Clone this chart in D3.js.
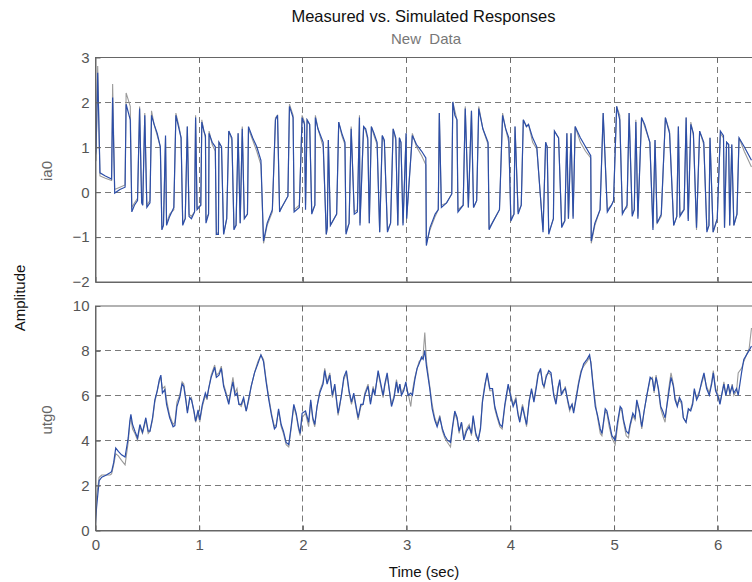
<!DOCTYPE html>
<html><head><meta charset="utf-8">
<script src="https://cdn.jsdelivr.net/npm/d3@7"></script>
<style>
body{margin:0;background:#fff}
svg{display:block;font-family:"Liberation Sans",Arial,sans-serif}
</style>
</head><body>
<svg id="c" width="752" height="582"></svg>
<script>
const xTicks=[0,1,2,3,4,5,6];
const iaTicks=[-2,-1,0,1,2,3];
const utgTicks=[0,2,4,6,8,10];
const titleText="Measured vs. Simulated Responses";
const subtitleText="New  Data";
const xLabel="Time (sec)";
const yLabel="Amplitude";
const channelNames=["ia0","utg0"];

const iaTime=[0,0.01,0.026,0.048,0.10,0.16,0.17,0.19,0.24,0.29,0.30,0.34,0.355,0.38,0.41,0.43,0.45,0.46,0.48,0.50,0.53,0.545,0.57,0.60,0.63,0.645,0.66,0.68,0.69,0.72,0.76,0.78,0.81,0.83,0.846,0.87,0.89,0.907,0.93,0.96,0.97,0.984,1.02,1.03,1.05,1.065,1.07,1.095,1.10,1.13,1.16,1.17,1.19,1.195,1.22,1.24,1.27,1.29,1.32,1.34,1.36,1.38,1.40,1.42,1.44,1.47,1.48,1.52,1.56,1.60,1.625,1.66,1.71,1.74,1.76,1.78,1.80,1.86,1.875,1.91,1.92,1.97,1.997,2.02,2.03,2.045,2.07,2.09,2.12,2.125,2.15,2.20,2.23,2.24,2.25,2.27,2.33,2.35,2.38,2.41,2.42,2.45,2.47,2.50,2.53,2.55,2.555,2.59,2.61,2.63,2.645,2.665,2.69,2.72,2.745,2.77,2.79,2.82,2.85,2.875,2.90,2.92,2.935,2.95,2.97,3.0,3.005,3.06,3.10,3.15,3.19,3.195,3.23,3.28,3.31,3.32,3.34,3.39,3.44,3.45,3.47,3.49,3.50,3.55,3.57,3.60,3.63,3.65,3.68,3.70,3.74,3.79,3.80,3.83,3.90,3.93,3.96,3.99,4.01,4.04,4.05,4.08,4.11,4.13,4.16,4.18,4.22,4.26,4.32,4.345,4.36,4.375,4.40,4.42,4.43,4.47,4.50,4.53,4.55,4.565,4.59,4.61,4.63,4.68,4.73,4.78,4.785,4.82,4.87,4.90,4.94,4.98,5.0,5.03,5.06,5.085,5.13,5.15,5.18,5.20,5.215,5.235,5.27,5.30,5.35,5.38,5.40,5.42,5.46,5.50,5.54,5.58,5.61,5.625,5.64,5.68,5.70,5.72,5.745,5.77,5.80,5.83,5.87,5.90,5.92,5.93,5.96,6.0,6.03,6.06,6.07,6.09,6.11,6.12,6.14,6.16,6.19,6.21,6.26,6.33];
const iaSim=[0.75,0.9,2.65,0.42,0.35,0.28,2.1,-0.03,0.05,0.1,1.95,1.6,-0.45,-0.3,-0.2,1.85,-0.25,-0.3,1.7,-0.35,-0.25,1.7,1.5,1.3,1.0,-0.85,-0.75,1.25,-0.75,-0.55,-0.35,1.7,1.4,1.2,-0.75,-0.6,1.45,-0.55,-0.6,-0.45,1.65,-0.4,-0.3,1.55,1.35,1.25,-0.7,-0.5,1.3,1.1,1.0,-0.95,-0.95,1.1,1.0,-0.95,-0.6,1.35,1.2,-0.85,-0.75,1.3,-0.7,1.4,-0.6,-0.5,1.45,1.2,1.0,0.7,-1.1,-0.7,-0.4,1.6,1.7,-0.45,-0.35,-0.1,1.9,1.65,-0.45,-0.35,1.65,1.5,-0.4,1.6,1.5,-0.5,-0.3,1.65,1.4,1.1,-0.95,-0.8,1.15,-0.75,-0.5,1.55,1.3,1.1,-0.95,-0.7,1.4,-0.5,-0.45,1.65,-0.75,1.45,1.4,1.2,-0.7,1.45,1.3,1.1,-0.9,1.25,1.15,-0.9,-0.7,1.4,1.2,-0.75,1.2,1.1,-0.75,1.3,-0.6,1.25,1.05,0.9,0.75,-1.2,-0.8,-0.5,-0.4,1.75,-0.35,-0.25,-0.05,2.0,1.7,1.6,-0.45,-0.3,1.85,-0.35,1.8,-0.35,-0.2,1.85,1.4,1.1,-0.85,-0.7,-0.4,1.7,1.4,1.2,-0.65,-0.5,1.45,-0.5,-0.3,1.6,1.45,1.5,1.2,1.0,-0.9,1.1,1.0,-0.95,-0.75,-0.6,1.35,1.2,-0.8,-0.65,1.3,-0.6,1.3,-0.6,1.45,1.2,1.0,0.8,-1.1,-0.7,-0.4,1.75,-0.45,-0.3,-0.2,1.9,1.6,-0.5,-0.3,1.75,-0.55,-0.4,1.55,-0.6,1.65,1.5,1.1,-0.85,1.15,-0.7,-0.5,1.65,1.3,-0.75,-0.55,1.45,-0.55,-0.4,1.65,-0.65,1.5,1.3,-0.8,1.35,1.1,-0.9,-0.75,1.2,-0.9,-0.6,1.35,1.25,-0.8,1.1,1.05,-0.75,1.05,-0.75,-0.5,1.2,1.0,0.7];
const iaMeas=[0.65,0.7,2.8,0.35,0.3,0.25,2.4,0.05,0.1,0.15,2.2,1.9,-0.35,-0.25,-0.15,1.9,-0.2,-0.3,1.75,-0.3,-0.2,1.8,1.5,1.25,1.0,-0.8,-0.75,1.2,-0.7,-0.5,-0.4,1.75,1.45,1.2,-0.7,-0.6,1.45,-0.5,-0.55,-0.45,1.7,-0.35,-0.3,1.6,1.35,1.2,-0.6,-0.5,1.35,1.05,0.9,-0.95,-0.9,1.1,1.0,-0.95,-0.6,1.35,1.15,-0.8,-0.75,1.3,-0.7,1.45,-0.6,-0.5,1.4,1.15,0.9,0.6,-1.15,-0.75,-0.45,1.65,1.7,-0.4,-0.35,-0.1,1.95,1.7,-0.4,-0.3,1.7,1.55,-0.3,1.6,1.5,-0.45,-0.3,1.7,1.4,1.0,-0.95,-0.8,1.15,-0.75,-0.5,1.55,1.25,1.05,-0.9,-0.7,1.45,-0.45,-0.4,1.7,-0.7,1.45,1.35,1.15,-0.7,1.45,1.25,1.05,-0.9,1.25,1.1,-0.85,-0.7,1.4,1.15,-0.75,1.2,1.1,-0.7,1.3,-0.6,1.3,1.0,0.8,0.6,-1.15,-0.85,-0.55,-0.4,1.75,-0.3,-0.25,-0.05,2.0,1.8,1.6,-0.4,-0.3,1.9,-0.35,1.8,-0.35,-0.2,1.9,1.4,1.05,-0.8,-0.7,-0.4,1.75,1.4,1.1,-0.6,-0.5,1.45,-0.45,-0.3,1.6,1.45,1.5,1.1,0.95,-0.85,1.1,1.0,-0.9,-0.75,-0.6,1.35,1.2,-0.75,-0.65,1.3,-0.6,1.3,-0.55,1.45,1.1,0.9,0.75,-1.15,-0.75,-0.4,1.75,-0.4,-0.3,-0.2,1.9,1.7,-0.45,-0.35,1.75,-0.5,-0.4,1.6,-0.55,1.65,1.45,1.1,-0.8,1.15,-0.7,-0.55,1.65,1.35,-0.75,-0.55,1.45,-0.5,-0.4,1.65,-0.6,1.55,1.25,-0.85,1.35,1.05,-0.85,-0.75,1.2,-0.9,-0.6,1.3,1.2,-0.8,1.1,1.05,-0.75,1.05,-0.75,-0.5,1.2,0.9,0.55];

const utgTime=[0,0.015,0.04,0.065,0.11,0.145,0.16,0.18,0.20,0.225,0.256,0.29,0.32,0.337,0.346,0.362,0.385,0.41,0.433,0.458,0.49,0.513,0.53,0.555,0.577,0.60,0.62,0.635,0.65,0.673,0.69,0.72,0.753,0.77,0.79,0.817,0.84,0.856,0.875,0.891,0.913,0.93,0.955,0.97,0.994,1.01,1.035,1.064,1.08,1.096,1.12,1.154,1.17,1.195,1.218,1.24,1.266,1.29,1.308,1.33,1.35,1.369,1.388,1.41,1.433,1.458,1.484,1.506,1.538,1.57,1.60,1.625,1.65,1.676,1.702,1.73,1.747,1.77,1.795,1.817,1.843,1.868,1.891,1.917,1.94,1.962,1.978,1.997,2.03,2.06,2.08,2.10,2.119,2.141,2.167,2.199,2.215,2.238,2.264,2.289,2.312,2.344,2.36,2.376,2.399,2.424,2.45,2.473,2.495,2.514,2.537,2.563,2.585,2.601,2.633,2.656,2.682,2.698,2.73,2.752,2.778,2.794,2.817,2.836,2.859,2.884,2.907,2.923,2.939,2.955,2.977,2.997,3.019,3.045,3.061,3.084,3.106,3.125,3.148,3.164,3.18,3.196,3.228,3.251,3.276,3.299,3.325,3.35,3.373,3.399,3.428,3.447,3.469,3.492,3.511,3.534,3.556,3.582,3.608,3.63,3.646,3.672,3.695,3.717,3.736,3.759,3.781,3.807,3.833,3.855,3.878,3.904,3.926,3.952,3.984,4.006,4.032,4.058,4.080,4.096,4.122,4.145,4.161,4.186,4.209,4.232,4.257,4.273,4.296,4.316,4.33,4.35,4.375,4.397,4.423,4.445,4.465,4.481,4.497,4.513,4.535,4.558,4.577,4.6,4.615,4.641,4.663,4.686,4.712,4.744,4.769,4.782,4.801,4.824,4.846,4.872,4.888,4.920,4.936,4.958,4.984,5.016,5.038,5.064,5.08,5.096,5.122,5.144,5.16,5.186,5.208,5.224,5.25,5.272,5.295,5.321,5.353,5.375,5.391,5.41,5.433,5.455,5.474,5.497,5.529,5.554,5.577,5.593,5.615,5.635,5.657,5.673,5.699,5.721,5.744,5.763,5.779,5.801,5.821,5.849,5.872,5.897,5.923,5.946,5.962,5.984,6.010,6.026,6.042,6.064,6.083,6.106,6.122,6.144,6.160,6.186,6.202,6.234,6.256,6.282,6.308,6.33];
const utgSim=[0,1.0,2.2,2.35,2.45,2.55,2.6,3.0,3.65,3.5,3.35,3.25,4.1,4.9,5.15,4.7,4.4,4.1,4.7,4.35,5.0,4.4,4.4,5.0,5.8,6.2,6.7,6.9,6.1,6.25,5.6,5.0,4.6,4.65,5.5,5.9,6.5,6.4,5.8,5.2,5.9,5.8,5.3,4.85,5.35,4.9,5.6,6.1,5.9,6.3,6.8,7.25,6.8,6.9,7.2,6.4,6.0,5.6,6.1,6.6,6.0,6.1,5.6,5.6,5.9,5.3,5.9,6.4,7.0,7.4,7.8,7.5,6.6,5.8,5.1,4.5,4.6,5.4,4.7,4.4,3.9,3.8,4.6,5.6,5.2,4.6,4.3,5.2,5.3,4.8,5.8,5.0,4.7,5.5,6.1,6.5,7.1,6.5,6.9,6.0,6.5,5.2,5.6,6.0,6.8,7.1,6.2,5.7,6.1,5.6,5.0,5.6,5.6,6.0,6.4,5.6,6.3,6.0,7.1,6.6,6.0,6.5,7.0,6.3,5.5,5.9,6.6,6.1,6.5,6.0,6.2,6.6,6.0,6.1,6.0,6.7,7.2,7.4,7.7,7.6,8.0,7.3,6.3,5.4,4.9,4.6,5.0,4.5,4.2,4.0,3.9,4.6,5.3,5.0,4.4,4.8,4.0,4.4,4.6,4.3,5.1,4.3,4.0,4.5,5.7,6.4,7.0,6.3,6.3,5.5,5.1,4.7,4.6,5.6,6.5,6.0,5.5,5.8,5.1,4.8,5.5,5.0,4.7,5.7,6.3,5.7,6.4,6.9,7.2,6.5,6.4,6.8,7.1,7.0,6.0,5.6,6.3,6.7,6.0,6.2,6.3,5.8,5.4,5.6,5.2,5.9,6.5,7.0,7.4,7.6,7.8,7.4,6.5,5.5,5.1,4.5,4.3,5.4,5.3,4.8,4.2,4.0,4.8,5.5,5.4,4.9,4.4,4.3,4.7,5.2,5.0,5.8,5.3,4.6,5.3,6.0,6.8,6.7,6.2,6.8,6.3,5.5,5.3,5.0,6.0,6.8,6.4,5.8,5.5,5.9,5.7,5.0,4.8,5.4,5.3,5.6,6.3,5.8,6.0,6.6,7.0,6.3,6.0,6.5,7.0,6.2,5.9,5.6,6.0,6.5,6.0,6.5,6.1,6.4,6.1,6.3,6.0,7.0,7.6,7.8,8.0,8.2];
const utgMeas=[0,1.5,2.35,2.45,2.45,2.45,2.5,2.9,3.4,3.3,3.1,2.9,3.9,4.8,5.0,4.5,4.3,4.0,4.6,4.3,4.9,4.3,4.4,4.9,5.7,6.2,6.6,6.8,6.3,6.4,5.8,5.1,4.7,4.8,5.7,6.0,6.6,6.5,5.9,5.3,5.8,5.9,5.2,4.8,5.2,4.8,5.5,6.0,5.8,6.3,6.9,7.35,6.9,7.0,7.3,6.5,6.1,5.7,6.2,6.8,6.1,6.3,5.6,5.5,5.8,5.3,5.8,6.4,7.0,7.5,7.8,7.6,6.7,5.9,5.2,4.6,4.7,5.3,4.6,4.3,3.8,3.7,4.5,5.5,5.1,4.5,4.2,5.0,5.2,4.6,5.7,4.9,4.6,5.5,6.2,6.6,7.2,6.6,7.0,5.9,6.4,5.1,5.5,6.0,6.7,7.0,6.1,5.6,6.0,5.5,4.9,5.5,5.6,6.1,6.5,5.7,6.4,6.1,7.0,6.5,5.9,6.4,6.9,6.3,5.6,6.0,6.7,6.2,6.5,6.1,6.3,6.5,6.1,5.5,6.2,6.8,7.2,7.5,7.6,7.8,8.8,7.5,6.4,5.6,5.0,4.7,5.1,4.4,4.1,3.9,3.7,4.5,5.2,4.9,4.3,4.8,4.1,4.5,4.7,4.2,5.0,4.2,4.0,4.6,5.8,6.5,6.9,6.2,6.2,5.4,5.0,4.6,4.5,5.5,6.4,6.1,5.6,5.9,5.2,4.9,5.6,5.1,4.6,5.8,6.2,5.8,6.5,7.0,7.1,6.6,6.3,6.9,7.0,6.9,6.1,5.7,6.4,6.6,6.1,6.1,6.4,5.7,5.3,5.6,5.3,6.0,6.6,7.1,7.3,7.5,7.7,7.5,6.6,5.7,5.0,4.3,4.2,5.3,5.2,4.6,4.1,3.8,4.6,5.4,5.3,4.8,4.2,4.1,4.6,5.1,4.9,5.7,5.2,4.5,5.3,6.0,6.7,6.8,6.1,6.9,6.2,5.4,5.1,4.8,6.2,7.0,6.5,5.9,5.6,5.8,5.6,5.0,4.8,5.3,5.4,5.7,6.2,5.9,6.1,6.5,6.9,6.4,6.1,6.6,7.1,6.3,6.0,5.7,6.0,6.6,6.0,6.5,6.0,6.5,6.0,6.2,7.0,7.2,7.5,7.8,8.1,9.0];

const svg=d3.select("#c");
const x=d3.scaleLinear().domain([0,6.335]).range([95,752]);
const panels=[
  {name:channelNames[0],t:iaTime,sim:iaSim,meas:iaMeas,ticks:iaTicks,y:d3.scaleLinear().domain([-2,3]).range([281.5,57]),showX:false,labelY:171},
  {name:channelNames[1],t:utgTime,sim:utgSim,meas:utgMeas,ticks:utgTicks,y:d3.scaleLinear().domain([0,10]).range([530,305.5]),showX:true,labelY:420}
];
const axisCol="#666", gridCol="#7a7a7a", textCol="#555";

panels.forEach((p,i)=>{
  const y=p.y;
  const [y0,y1]=y.range();
  const x0=x.range()[0], x1=x.range()[1];
  const g=svg.append("g");
  const cid="clip"+i;
  svg.append("clipPath").attr("id",cid).append("rect").attr("x",x0).attr("y",y1).attr("width",x1-x0).attr("height",y0-y1);
  g.selectAll(".gx").data(xTicks.filter(v=>v>0)).join("line")
    .attr("x1",d=>Math.round(x(d))+0.5).attr("x2",d=>Math.round(x(d))+0.5)
    .attr("y1",y1).attr("y2",y0).attr("stroke",gridCol).attr("stroke-width",1).attr("stroke-dasharray","6,4");
  g.selectAll(".gy").data(p.ticks.filter((v,k)=>k>0&&k<p.ticks.length-1)).join("line")
    .attr("x1",x0).attr("x2",x1)
    .attr("y1",d=>Math.round(y(d))+0.5).attr("y2",d=>Math.round(y(d))+0.5)
    .attr("stroke",gridCol).attr("stroke-width",1).attr("stroke-dasharray","6,4");
  const idx=d3.range(p.t.length);
  const lineM=d3.line().x(k=>x(p.t[k])).y(k=>y(p.meas[k]));
  const lineS=d3.line().x(k=>x(p.t[k])).y(k=>y(p.sim[k]));
  const lg=svg.append("g").attr("clip-path",`url(#${cid})`);
  lg.append("path").datum(idx).attr("d",lineM).attr("fill","none").attr("stroke","#9a9a9a").attr("stroke-width",1.1);
  lg.append("path").datum(idx).attr("d",lineS).attr("fill","none").attr("stroke","#2c4ea8").attr("stroke-width",1.2);
  svg.append("rect").attr("x",x0+0.5).attr("y",y1+0.5).attr("width",x1-x0).attr("height",y0-y1)
    .attr("fill","none").attr("stroke",axisCol).attr("stroke-width",1);
  const ay=svg.append("g").attr("transform",`translate(${x0+0.5},0.5)`)
    .call(d3.axisLeft(y).tickValues(p.ticks).tickSizeInner(-5).tickSizeOuter(0).tickPadding(6).tickFormat(d3.format("d")));
  ay.select(".domain").attr("stroke",axisCol);
  ay.selectAll(".tick line").attr("stroke",axisCol);
  ay.selectAll("text").attr("fill",textCol).style("font-size","15px").style("font-family","'Liberation Sans',Arial,sans-serif");
  const ax=svg.append("g").attr("transform",`translate(0.5,${y0+0.5})`)
    .call(d3.axisBottom(x).tickValues(xTicks).tickSizeInner(-5).tickSizeOuter(0).tickPadding(9).tickFormat(d3.format("d")));
  ax.select(".domain").attr("stroke",axisCol);
  ax.selectAll(".tick line").attr("stroke",axisCol);
  ax.selectAll("text").attr("fill",textCol).style("font-size","15px").style("font-family","'Liberation Sans',Arial,sans-serif");
  if(!p.showX) ax.selectAll("text").remove();
  svg.append("g").selectAll("line").data(xTicks).join("line")
    .attr("x1",d=>Math.round(x(d))+0.5).attr("x2",d=>Math.round(x(d))+0.5)
    .attr("y1",y1+0.5).attr("y2",y1+5.5).attr("stroke",axisCol);
  svg.append("text").attr("transform",`translate(52,${p.labelY}) rotate(-90)`)
    .attr("text-anchor","middle").attr("fill","#666").style("font-size","15px").text(p.name);
});

svg.append("text").attr("x",423.5).attr("y",21.5).attr("text-anchor","middle")
  .attr("fill","#111").style("font-size","16.5px").text(titleText);
svg.append("text").attr("x",426).attr("y",43.5).attr("text-anchor","middle")
  .attr("fill","#777").style("font-size","15px").style("white-space","pre").text(subtitleText);
svg.append("text").attr("x",424).attr("y",577).attr("text-anchor","middle")
  .attr("fill","#111").style("font-size","15px").text(xLabel);
svg.append("text").attr("transform","translate(25,298) rotate(-90)").attr("text-anchor","middle")
  .attr("fill","#111").style("font-size","15px").text(yLabel);
</script>
</body></html>
